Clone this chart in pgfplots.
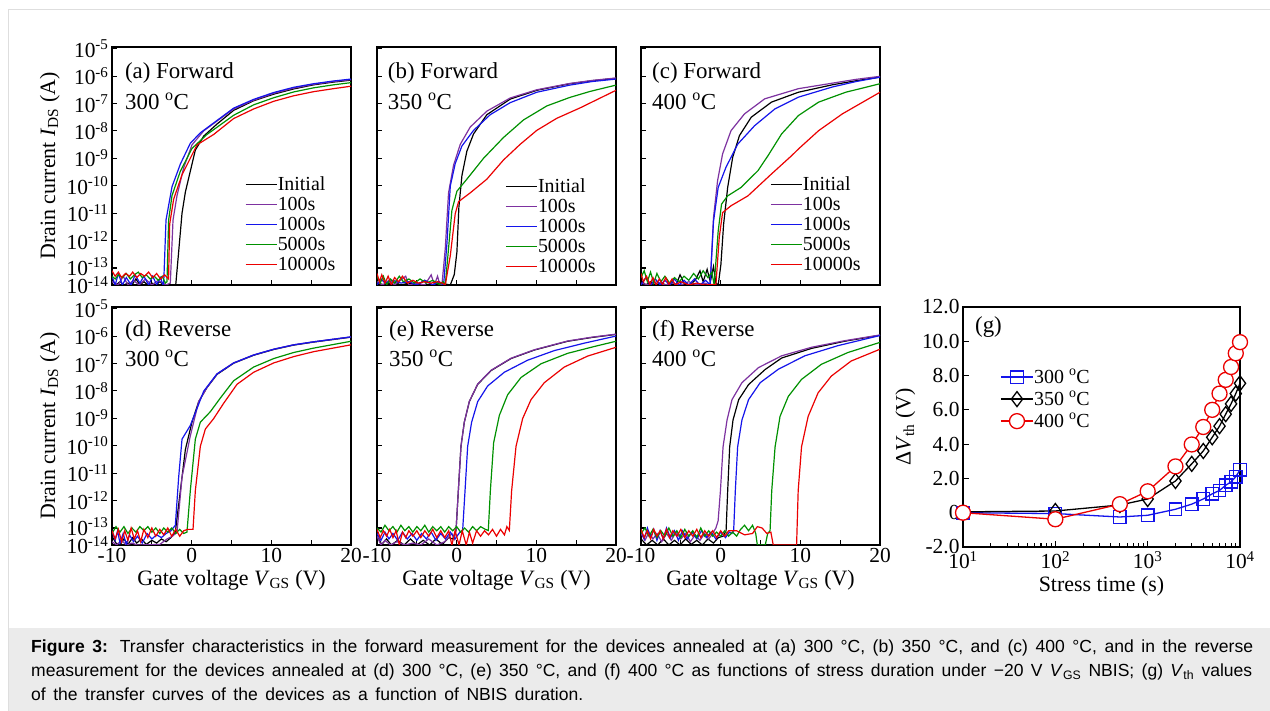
\documentclass[border=0pt]{standalone}
\usepackage{fontspec}
\setmainfont{Liberation Serif}
\newfontfamily\capfont{Liberation Sans}
\usepackage{pgfplots}
\pgfplotsset{compat=1.18}
\definecolor{cPur}{RGB}{125,50,160}
\definecolor{cBlu}{RGB}{20,20,235}
\definecolor{cGrn}{RGB}{0,145,0}
\definecolor{cRed}{RGB}{235,0,0}
\definecolor{capGray}{RGB}{235,235,235}
\definecolor{frameGray}{RGB}{222,222,222}
\newcommand\fs[1]{\fontsize{#1}{#1}\selectfont}
\newcommand\degC{\textsuperscript{o}C}

% y values are log10 of the drain current
\pgfplotsset{
  tc/.style={
    scale only axis, width=239bp, height=238bp, anchor=south west,
    xmin=-10, xmax=20, ymin=-13.62, ymax=-4.94,
    xtick={-10,0,10,20}, minor xtick={-5,5,15},
    ytick={-13.62,-13,-12,-11,-10,-9,-8,-7,-6,-5},
    xticklabels={}, yticklabels={},
    tick pos=left, tick align=inside,
    major tick length=5bp, minor tick length=5bp,
    axis line style={line width=1.5bp},
    every tick/.style={black, line width=1.1bp},
    tick label style={font=\fs{21.5}}, label style={font=\fs{22}},
    every axis plot/.append style={line width=1.2bp},
    legend style={draw=none, fill=none, anchor=north west, font=\fs{20},
      inner sep=0pt, row sep=3bp, legend cell align=left,
      nodes={inner sep=0.5bp, text height=14bp, text depth=2bp},
      /tikz/every even column/.append style={column sep=2bp}},
    legend image code/.code={\draw[##1] (0bp,0bp) -- (31bp,0bp);},
  },
  ylog/.style={
    yticklabels={\raisebox{-1bp}{10\textsuperscript{-14}},\raisebox{3bp}{10\textsuperscript{-13}},10\textsuperscript{-12},10\textsuperscript{-11},10\textsuperscript{-10},10\textsuperscript{-9},10\textsuperscript{-8},10\textsuperscript{-7},10\textsuperscript{-6},10\textsuperscript{-5}},
    ylabel={Drain current \textit{I}\textsubscript{DS} (A)}},
  xvg/.style={xticklabels={-10,0,10,20},
    xlabel={Gate voltage \textit{V}\textsubscript{GS} (V)}},
}

\begin{document}
\begin{tikzpicture}
\path[use as bounding box, fill=white] (0bp,0bp) rectangle (1270bp,711bp);
\fill[capGray] (9bp,0bp) rectangle (1270bp,83bp);
\draw[frameGray, line width=1bp] (8.5bp,0bp) -- (8.5bp,701.5bp) -- (1270bp,701.5bp);

% (a) forward 300
\begin{axis}[tc, ylog, at={(112bp,426bp)},
  legend style={at={(rel axis cs:0.556,0.46)}}]
\addplot[black] coordinates {(-10,-13.45) (-9.5,-13.62) (-9,-13.5) (-8.5,-13.62) (-8,-13.55) (-7.5,-13.62) (-7,-13.4) (-6.5,-13.62) (-6,-13.5) (-5.5,-13.62) (-5,-13.55) (-4.5,-13.62) (-4,-13.5) (-3.5,-13.62) (-2,-13.62) (-1.63,-12.4) (-1.21,-11.0) (-0.79,-10.23) (-0.17,-9.47) (0.46,-8.7) (1.51,-8.19) (3.18,-7.75) (5.27,-7.25) (7.78,-6.9) (10.3,-6.66) (12.8,-6.47) (15.3,-6.32) (17.8,-6.22) (20,-6.15)};
\addplot[cPur] coordinates {(-10,-13.5) (-9.2,-13.62) (-8.6,-13.3) (-8,-13.62) (-7.3,-13.45) (-6.6,-13.62) (-5.8,-13.4) (-5,-13.62) (-4.2,-13.45) (-3.2,-13.62) (-2.68,-13.55) (-2.34,-11.25) (-1.84,-10.36) (-1.0,-9.34) (0.04,-8.51) (1.51,-8.0) (3.18,-7.64) (5.27,-7.2) (7.78,-6.88) (10.3,-6.63) (12.8,-6.44) (15.3,-6.3) (17.8,-6.2) (20,-6.13)};
\addplot[cBlu] coordinates {(-10,-13.3) (-9.6,-13.62) (-9.2,-13.2) (-8.7,-13.62) (-8.2,-13.35) (-7.6,-13.62) (-7.1,-13.25) (-6.5,-13.55) (-6,-13.3) (-5.4,-13.62) (-4.9,-13.3) (-4.4,-13.6) (-3.9,-13.35) (-3.6,-13.62) (-3.51,-13.55) (-3.22,-11.25) (-2.47,-10.04) (-1.42,-9.21) (-0.17,-8.45) (1.09,-8.07) (3.18,-7.62) (5.27,-7.17) (7.78,-6.85) (10.3,-6.6) (12.8,-6.41) (15.3,-6.28) (17.8,-6.18) (20,-6.11)};
\addplot[cGrn] coordinates {(-10,-13.3) (-9.6,-13.4) (-9.2,-13.25) (-8.7,-13.35) (-8.2,-13.2) (-7.7,-13.4) (-7.2,-13.25) (-6.7,-13.15) (-6.2,-13.35) (-5.7,-13.25) (-5.2,-13.4) (-4.7,-13.3) (-4.2,-13.45) (-3.7,-13.3) (-3.3,-13.55) (-3.1,-13.5) (-2.89,-11.25) (-2.47,-10.36) (-1.42,-9.47) (0.04,-8.64) (1.92,-8.13) (3.5,-7.8) (5.27,-7.43) (7.78,-7.05) (10.3,-6.79) (12.8,-6.58) (15.3,-6.43) (17.8,-6.32) (20,-6.24)};
\addplot[cRed] coordinates {(-10,-13.1) (-9.6,-13.3) (-9.2,-13.15) (-8.8,-13.35) (-8.3,-13.2) (-7.8,-13.3) (-7.4,-13.15) (-6.9,-13.35) (-6.4,-13.2) (-5.9,-13.3) (-5.4,-13.15) (-4.9,-13.35) (-4.4,-13.2) (-3.9,-13.4) (-3.4,-13.25) (-2.9,-13.4) (-2.76,-11.4) (-2.26,-10.49) (-1.21,-9.6) (0.67,-8.51) (2.76,-8.13) (5.27,-7.55) (7.78,-7.2) (10.3,-6.92) (12.8,-6.72) (15.3,-6.57) (17.8,-6.46) (20,-6.37)};
\legend{Initial,100s,1000s,5000s,10000s}
\node[anchor=west, font=\fs{23}, inner sep=0pt] at (rel axis cs:0.054,0.89) {(a) Forward};
\node[anchor=west, font=\fs{23}, inner sep=0pt] at (rel axis cs:0.054,0.773) {300 \degC};
\end{axis}

% (b) forward 350
\begin{axis}[tc, at={(377bp,426bp)},
  legend style={at={(rel axis cs:0.536,0.452)}}]
\addplot[black] coordinates {(-10,-13.55) (-9,-13.62) (-8,-13.5) (-7,-13.62) (-6,-13.55) (-5,-13.62) (-4,-13.45) (-3,-13.62) (-2,-13.55) (-0.8,-13.62) (-0.3,-13.24) (0.03,-12.42) (0.28,-10.77) (0.66,-9.63) (1.28,-8.74) (2.12,-8.11) (3.79,-7.41) (6.72,-6.84) (10.06,-6.52) (14.2,-6.28) (17,-6.17) (20,-6.08)};
\addplot[cPur] coordinates {(-10,-13.5) (-9.3,-13.62) (-8.5,-13.45) (-7.8,-13.62) (-6.4,-13.3) (-6,-13.62) (-5,-13.55) (-4,-13.62) (-3.2,-13.25) (-2.8,-13.62) (-2.4,-13.3) (-2.1,-13.62) (-1.85,-13.62) (-1.43,-12.29) (-1.02,-10.26) (-0.39,-9.25) (0.45,-8.49) (1.7,-7.86) (3.79,-7.28) (6.72,-6.8) (10.06,-6.5) (14.2,-6.27) (17,-6.16) (20,-6.07)};
\addplot[cBlu] coordinates {(-10,-13.62) (-9.5,-13.4) (-9,-13.55) (-8,-13.45) (-7,-13.55) (-6,-13.5) (-5,-13.62) (-4,-13.45) (-3,-13.62) (-2.2,-13.5) (-1.64,-13.62) (-1.22,-12.1) (-0.8,-10.01) (-0.18,-9.19) (0.66,-8.55) (2.12,-7.98) (4.21,-7.41) (6.72,-6.97) (10.06,-6.59) (14.2,-6.33) (17,-6.2) (20,-6.11)};
\addplot[cGrn] coordinates {(-10,-13.3) (-9.6,-13.55) (-9.2,-13.3) (-8.8,-13.62) (-8.3,-13.4) (-7.8,-13.55) (-7.2,-13.3) (-6.7,-13.5) (-6,-13.4) (-5.3,-13.55) (-4.6,-13.4) (-3.8,-13.55) (-3,-13.45) (-2.2,-13.6) (-1.7,-13.5) (-1.43,-13.62) (-1.02,-12.29) (-0.6,-10.9) (0.03,-10.2) (1.28,-9.76) (3.37,-9.0) (5.88,-8.24) (8.39,-7.6) (11.31,-7.09) (14.2,-6.78) (16.75,-6.56) (20,-6.33)};
\addplot[cRed] coordinates {(-10,-13.2) (-9.7,-13.5) (-9.4,-13.25) (-9,-13.55) (-8.6,-13.3) (-8.2,-13.62) (-7.8,-13.35) (-7.3,-13.5) (-6.8,-13.3) (-6.2,-13.55) (-5.5,-13.45) (-4.8,-13.55) (-4,-13.5) (-3.2,-13.55) (-2.4,-13.5) (-1.8,-13.55) (-1.43,-13.62) (-0.8,-12.55) (-0.18,-11.02) (0.24,-10.58) (1.7,-10.26) (3.79,-9.76) (5.88,-9.06) (7.97,-8.49) (10.06,-7.98) (12.57,-7.54) (15.5,-7.16) (20,-6.52)};
\legend{Initial,100s,1000s,5000s,10000s}
\node[anchor=west, font=\fs{23}, inner sep=0pt] at (rel axis cs:0.045,0.89) {(b) Forward};
\node[anchor=west, font=\fs{23}, inner sep=0pt] at (rel axis cs:0.045,0.773) {350 \degC};
\end{axis}

% (c) forward 400
\begin{axis}[tc, at={(641bp,426bp)},
  legend style={at={(rel axis cs:0.54,0.46)}}]
\addplot[black] coordinates {(-10,-13.45) (-9.4,-13.62) (-8.8,-13.5) (-8.2,-13.62) (-7.5,-13.55) (-6.8,-13.62) (-6.2,-13.5) (-5.6,-13.62) (-5.1,-13.25) (-4.6,-13.55) (-3.9,-13.62) (-3.2,-13.45) (-2.6,-13.1) (-2.2,-13.5) (-1.7,-13.05) (-1.3,-13.5) (-0.9,-12.95) (-0.6,-13.55) (-0.31,-13.62) (0.03,-12.87) (0.37,-11.4) (0.88,-10.06) (1.51,-8.96) (2.36,-8.17) (3.84,-7.5) (6.38,-6.95) (9.76,-6.59) (14.0,-6.32) (17,-6.17) (20,-6.04)};
\addplot[cPur] coordinates {(-10,-13.55) (-9,-13.62) (-8,-13.5) (-7,-13.62) (-6,-13.55) (-5,-13.62) (-4,-13.5) (-3,-13.62) (-2,-13.55) (-1.32,-13.62) (-0.9,-11.16) (-0.39,-9.82) (0.24,-8.84) (1.3,-7.99) (2.99,-7.38) (5.53,-6.83) (9.76,-6.46) (14.0,-6.26) (17,-6.12) (20,-6.01)};
\addplot[cBlu] coordinates {(-10,-13.62) (-9.4,-13.35) (-8.8,-13.62) (-8.2,-13.4) (-7.6,-13.62) (-7,-13.45) (-6.4,-13.62) (-5.8,-13.4) (-5.2,-13.62) (-4.6,-13.45) (-4,-13.62) (-3.3,-13.4) (-2.6,-13.62) (-1.9,-13.45) (-1.32,-13.62) (-0.9,-11.3) (-0.31,-10.06) (0.66,-9.33) (2.15,-8.48) (4.26,-7.81) (6.8,-7.2) (9.76,-6.77) (14.0,-6.4) (17,-6.2) (20,-6.04)};
\addplot[cGrn] coordinates {(-10,-13.35) (-9.6,-13.1) (-9.2,-13.5) (-8.8,-13.15) (-8.4,-13.55) (-8,-13.2) (-7.5,-13.5) (-7,-13.3) (-6.4,-13.55) (-5.8,-13.35) (-5.2,-13.5) (-4.6,-13.3) (-4,-13.45) (-3.4,-13.2) (-2.8,-13.4) (-2.2,-13.1) (-1.6,-13.35) (-1.1,-13.15) (-0.82,-13.62) (-0.31,-11.65) (0.11,-10.67) (0.88,-10.37) (2.57,-10.06) (4.68,-9.45) (5.95,-8.9) (7.65,-8.11) (9.76,-7.44) (12.3,-6.95) (15.7,-6.59) (20,-6.28)};
\addplot[cRed] coordinates {(-10,-13.2) (-9.7,-13.5) (-9.3,-13.3) (-8.9,-13.6) (-8.5,-13.35) (-8.1,-13.62) (-7.7,-13.4) (-7.3,-13.6) (-6.9,-13.35) (-6.5,-13.6) (-6.1,-13.4) (-5.7,-13.62) (-5,-13.5) (-4,-13.62) (-3,-13.55) (-2,-13.62) (-1,-13.6) (-0.6,-13.62) (-0.18,-11.89) (0.24,-10.98) (1.3,-10.73) (3.42,-10.37) (6.38,-9.57) (8.92,-8.9) (9.76,-8.66) (12.3,-7.99) (15.27,-7.38) (20,-6.59)};
\legend{Initial,100s,1000s,5000s,10000s}
\node[anchor=west, font=\fs{23}, inner sep=0pt] at (rel axis cs:0.046,0.89) {(c) Forward};
\node[anchor=west, font=\fs{23}, inner sep=0pt] at (rel axis cs:0.046,0.773) {400 \degC};
\end{axis}

% (d) reverse 300
\begin{axis}[tc, ylog, xvg, at={(112bp,166bp)}]
\addplot[black] coordinates {(-10,-13.3) (-9.5,-13.55) (-9,-13.62) (-8.5,-13.4) (-8,-13.6) (-7.4,-13.35) (-6.9,-13.55) (-6.3,-13.4) (-5.7,-13.6) (-5,-13.45) (-4.4,-13.55) (-3.8,-13.4) (-3.2,-13.5) (-2.6,-13.35) (-2.05,-13.15) (-1.63,-12.15) (-0.79,-10.14) (0.04,-9.14) (0.88,-8.39) (1.92,-7.88) (3.18,-7.4) (5.27,-6.99) (7.78,-6.7) (10.3,-6.49) (12.8,-6.33) (15.3,-6.22) (20,-6.04)};
\addplot[cPur] coordinates {(-10,-13.5) (-9.4,-13.62) (-8.8,-13.45) (-8.2,-13.62) (-7.5,-13.55) (-6.8,-13.62) (-4,-13.6) (-3.1,-13.4) (-2.4,-13.3) (-1.84,-13.15) (-1.21,-11.14) (-0.17,-9.64) (0.88,-8.39) (1.92,-7.88) (3.18,-7.38) (5.27,-6.98) (7.78,-6.69) (10.3,-6.48) (12.8,-6.32) (15.3,-6.21) (20,-6.03)};
\addplot[cBlu] coordinates {(-10,-13.1) (-9.6,-13.45) (-9.3,-13.1) (-9,-13.55) (-8.6,-13.2) (-8.2,-13.6) (-7.8,-13.25) (-7.3,-13.5) (-6.8,-13.3) (-6.2,-13.55) (-5.6,-13.2) (-5,-13.4) (-4.4,-13.25) (-3.8,-13.35) (-3.2,-13.2) (-2.6,-13.1) (-2.05,-12.9) (-1.63,-11.14) (-1.21,-9.76) (-0.17,-9.26) (0.67,-8.64) (1.51,-8.01) (3.18,-7.38) (5.27,-6.98) (7.78,-6.69) (10.3,-6.48) (12.8,-6.32) (15.3,-6.21) (20,-6.03)};
\addplot[cGrn] coordinates {(-10,-13.2) (-9.5,-12.95) (-9,-13.15) (-8.5,-12.95) (-8,-13.2) (-7.5,-13.0) (-7,-13.15) (-6.5,-12.95) (-6,-13.1) (-5.5,-12.95) (-5,-13.15) (-4.5,-13.0) (-4,-13.2) (-3.5,-13.0) (-3,-13.15) (-2.5,-13.0) (-2,-13.2) (-1.5,-13.05) (-1,-13.2) (-0.59,-13.15) (-0.17,-11.64) (0.46,-9.76) (1.09,-9.14) (2.34,-8.76) (3.6,-8.26) (5.27,-7.63) (7.78,-7.13) (10.3,-6.82) (12.8,-6.6) (15.3,-6.44) (20,-6.19)};
\addplot[cRed] coordinates {(-10,-13.1) (-9.6,-13.4) (-9.2,-13.05) (-8.8,-13.5) (-8.4,-13.1) (-8,-13.45) (-7.6,-13.0) (-7.2,-13.4) (-6.8,-13.1) (-6.4,-13.5) (-6,-13.05) (-5.5,-13.35) (-5,-13.0) (-4.5,-13.3) (-4,-13.05) (-3.5,-13.25) (-3,-13.0) (-2.5,-13.3) (-2,-13.05) (-1.5,-13.3) (-1,-13.1) (-0.5,-13.05) (0.17,-13.05) (0.46,-11.64) (1.09,-10.02) (1.72,-9.39) (2.76,-9.01) (4.02,-8.45) (5.69,-7.76) (7.78,-7.32) (10.3,-6.98) (12.8,-6.75) (15.3,-6.57) (20,-6.32)};
\node[anchor=west, font=\fs{23}, inner sep=0pt] at (rel axis cs:0.054,0.9) {(d) Reverse};
\node[anchor=west, font=\fs{23}, inner sep=0pt] at (rel axis cs:0.054,0.786) {300 \degC};
\end{axis}

% (e) reverse 350
\begin{axis}[tc, xvg, at={(377bp,166bp)}]
\addplot[black] coordinates {(-10,-13.3) (-9.4,-13.6) (-8.8,-13.4) (-8.2,-13.62) (-7.4,-13.45) (-6.6,-13.62) (-5.8,-13.4) (-5,-13.62) (-4.2,-13.45) (-3.4,-13.62) (-2.6,-13.4) (-1.8,-13.6) (-1,-13.35) (-0.5,-13.4) (-0.08,-13.09) (0.21,-11.64) (0.54,-10.02) (0.96,-9.14) (1.59,-8.39) (2.64,-7.76) (4.31,-7.26) (6.82,-6.82) (9.75,-6.51) (13.93,-6.19) (17,-6.05) (20,-5.94)};
\addplot[cPur] coordinates {(-10,-13.3) (-9.5,-13.62) (-9,-13.45) (-8.3,-13.62) (-7.5,-13.5) (-6.5,-13.62) (-5.5,-13.55) (-4.5,-13.62) (-3.5,-13.4) (-2.5,-13.62) (-1.5,-13.5) (-0.6,-13.2) (-0.3,-13.4) (-0.08,-13.09) (0.21,-11.64) (0.54,-10.02) (0.96,-9.14) (1.59,-8.38) (2.64,-7.75) (4.31,-7.25) (6.82,-6.81) (9.75,-6.5) (13.93,-6.18) (17,-6.04) (20,-5.93)};
\addplot[cBlu] coordinates {(-10,-13.2) (-9.5,-13.45) (-9,-13.15) (-8.5,-13.4) (-8,-13.2) (-7.4,-13.45) (-6.8,-13.15) (-6.2,-13.4) (-5.6,-13.2) (-5,-13.45) (-4.4,-13.2) (-3.8,-13.4) (-3.2,-13.15) (-2.6,-13.45) (-2,-13.2) (-1.4,-13.4) (-0.8,-13.15) (-0.2,-13.4) (0.4,-13.15) (0.75,-13.09) (1.05,-11.64) (1.38,-10.02) (1.88,-9.14) (2.64,-8.39) (3.89,-7.82) (5.98,-7.32) (8.91,-6.88) (12.26,-6.53) (16.0,-6.26) (20,-6.0)};
\addplot[cGrn] coordinates {(-10,-13.0) (-9.5,-13.15) (-9,-12.9) (-8.5,-13.1) (-8,-12.95) (-7.5,-13.15) (-7,-12.9) (-6.5,-13.1) (-6,-12.95) (-5.5,-13.15) (-5,-12.95) (-4.5,-13.1) (-4,-12.9) (-3.5,-13.15) (-3,-12.95) (-2.5,-13.1) (-2,-12.95) (-1.5,-13.15) (-1,-12.95) (-0.5,-13.1) (0,-12.95) (0.5,-13.15) (1,-13.0) (1.5,-13.15) (2,-12.95) (2.5,-13.1) (3,-12.95) (3.6,-13.05) (3.97,-13.09) (4.23,-11.64) (4.64,-9.89) (5.36,-8.89) (6.4,-8.14) (8.08,-7.51) (10.59,-7.01) (13.93,-6.63) (17.28,-6.38) (20,-6.19)};
\addplot[cRed] coordinates {(-10,-13.05) (-9.6,-13.35) (-9.2,-13.1) (-8.8,-13.3) (-8.4,-13.05) (-8,-13.35) (-7.6,-13.1) (-7.2,-13.62) (-6.8,-13.15) (-6.4,-13.35) (-6,-13.1) (-5.5,-13.3) (-5,-13.1) (-4.5,-13.35) (-4,-13.1) (-3.5,-13.3) (-3,-13.05) (-2.5,-13.35) (-2,-13.1) (-1.5,-13.35) (-1,-13.1) (-0.6,-13.62) (-0.2,-13.1) (0.3,-13.62) (0.7,-13.1) (1.2,-13.62) (1.6,-13.15) (2,-13.55) (2.5,-13.1) (3,-13.3) (3.5,-13.1) (4,-13.25) (4.5,-13.05) (5,-13.3) (5.5,-13.05) (6,-13.25) (6.3,-12.95) (6.61,-13.09) (6.9,-11.64) (7.45,-10.02) (8.28,-9.01) (9.33,-8.32) (11.0,-7.7) (13.51,-7.13) (16.44,-6.73) (20,-6.41)};
\node[anchor=west, font=\fs{23}, inner sep=0pt] at (rel axis cs:0.05,0.9) {(e) Reverse};
\node[anchor=west, font=\fs{23}, inner sep=0pt] at (rel axis cs:0.05,0.786) {350 \degC};
\end{axis}

% (f) reverse 400
\begin{axis}[tc, xvg, at={(641bp,166bp)}]
\addplot[black] coordinates {(-10,-13.4) (-9.3,-13.62) (-8.6,-13.45) (-7.9,-13.62) (-7.2,-13.4) (-6.5,-13.62) (-5.8,-13.45) (-5.1,-13.62) (-4.4,-13.4) (-3.7,-13.6) (-3,-13.45) (-2.3,-13.62) (-1.6,-13.4) (-0.9,-13.55) (-0.3,-13.35) (0.3,-13.3) (0.68,-13.1) (0.88,-11.64) (1.13,-10.04) (1.55,-9.06) (2.26,-8.32) (3.5,-7.77) (5.58,-7.22) (7.66,-6.8) (11.4,-6.45) (15.55,-6.19) (20,-5.97)};
\addplot[cPur] coordinates {(-10,-13.2) (-9.5,-13.45) (-9,-13.15) (-8.5,-13.4) (-8,-13.2) (-7.4,-13.5) (-6.8,-13.2) (-6.2,-13.45) (-5.6,-13.15) (-5,-13.4) (-4.4,-13.2) (-3.8,-13.5) (-3.2,-13.25) (-2.6,-13.45) (-2,-13.2) (-1.5,-13.4) (-1,-13.2) (-0.6,-13.0) (-0.32,-12.74) (-0.03,-11.64) (0.3,-10.04) (0.8,-9.06) (1.42,-8.32) (2.67,-7.7) (4.75,-7.15) (7.66,-6.72) (11.4,-6.41) (15.55,-6.17) (20,-5.96)};
\addplot[cBlu] coordinates {(-10,-13.1) (-9.6,-13.4) (-9.2,-13.0) (-8.8,-13.35) (-8.4,-13.05) (-8,-13.45) (-7.6,-13.1) (-7.2,-13.4) (-6.8,-13.0) (-6.3,-13.35) (-5.8,-13.1) (-5.3,-13.45) (-4.8,-13.1) (-4.2,-13.4) (-3.6,-13.15) (-3,-13.4) (-2.4,-13.1) (-1.8,-13.35) (-1.2,-13.15) (-0.6,-13.4) (0,-13.15) (0.6,-13.35) (1.1,-13.15) (1.4,-13.2) (1.63,-13.1) (1.84,-11.64) (2.13,-10.04) (2.67,-9.06) (3.5,-8.32) (4.96,-7.7) (7.24,-7.21) (10.56,-6.72) (14.72,-6.35) (20,-5.98)};
\addplot[cGrn] coordinates {(-10,-13.2) (-9.5,-13.0) (-9,-13.3) (-8.5,-13.05) (-8,-13.35) (-7.5,-13.1) (-7,-13.3) (-6.5,-13.0) (-6,-13.3) (-5.5,-13.1) (-5,-13.35) (-4.5,-13.05) (-4,-13.3) (-3.5,-13.1) (-3,-13.35) (-2.5,-13.0) (-2,-13.3) (-1.5,-13.1) (-1,-13.3) (-0.5,-13.15) (0,-13.3) (0.5,-13.1) (1,-13.3) (1.5,-13.15) (2,-13.3) (2.5,-13.05) (3,-12.9) (3.5,-13.1) (4,-12.9) (4.4,-13.2) (4.6,-13.62) (5.6,-13.62) (5.9,-13.2) (6.2,-13.1) (6.41,-11.64) (6.83,-10.04) (7.45,-8.93) (8.49,-8.2) (10.15,-7.58) (12.64,-7.03) (15.97,-6.6) (20,-6.23)};
\addplot[cRed] coordinates {(-10,-13.05) (-9.6,-13.35) (-9.2,-13.1) (-8.8,-13.4) (-8.4,-13.05) (-8,-13.3) (-7.6,-13.1) (-7.2,-13.4) (-6.8,-13.05) (-6.4,-13.35) (-6,-13.1) (-5.5,-13.3) (-5,-13.05) (-4.5,-13.35) (-4,-13.1) (-3.5,-13.3) (-3,-13.05) (-2.5,-13.35) (-2,-13.1) (-1.5,-13.3) (-1,-13.1) (-0.5,-13.35) (0,-13.1) (0.5,-13.3) (1,-13.1) (2,-13.1) (3,-13.25) (4,-13.2) (4.6,-12.95) (5.2,-13.0) (5.8,-13.2) (6.3,-13.15) (6.6,-13.62) (9.53,-13.62) (9.73,-11.64) (10.15,-10.04) (10.98,-8.93) (12.23,-8.07) (13.89,-7.46) (16.38,-6.91) (20,-6.48)};
\node[anchor=west, font=\fs{23}, inner sep=0pt] at (rel axis cs:0.046,0.9) {(f) Reverse};
\node[anchor=west, font=\fs{23}, inner sep=0pt] at (rel axis cs:0.046,0.786) {400 \degC};
\end{axis}

% (g) threshold voltage shift
\begin{axis}[at={(963bp,164bp)}, anchor=south west, scale only axis,
  width=277bp, height=240bp,
  xmode=log, xmin=10, xmax=10000, ymin=-2, ymax=12,
  xtick={10,100,1000,10000},
  xticklabels={10\textsuperscript{1},10\textsuperscript{2},10\textsuperscript{3},10\textsuperscript{4}},
  ytick={-2,0,2,4,6,8,10,12},
  yticklabels={-2.0,0,2.0,4.0,6.0,8.0,10.0,12.0},
  tick pos=left, tick align=inside,
  major tick length=6bp, minor tick length=4bp,
  axis line style={line width=1.5bp},
  every tick/.style={black, line width=1.1bp},
  tick label style={font=\fs{21.5}}, label style={font=\fs{22}},
  xticklabel style={yshift=-1bp},
  xlabel={Stress time (s)},
  ylabel={Δ\textit{V}\textsubscript{th} (V)},
  clip=false,
  legend style={draw=none, fill=none, anchor=north west, font=\fs{20},
    at={(rel axis cs:0.134,0.744)},
    inner sep=0pt, row sep=5bp, legend cell align=left,
    nodes={inner sep=0.5bp, text height=14bp, text depth=2bp},
    /tikz/every even column/.append style={column sep=3bp}},
  legend image code/.code={\draw[#1] (0bp,0bp) -- (32bp,0bp); \draw[#1] plot coordinates {(16bp,0bp)};},
]
\addplot[cBlu, line width=1.3bp, mark=square, mark size=6.2bp, mark options={fill=white, solid}] coordinates {
  (10,0) (100,-0.05) (500,-0.25) (1000,-0.15) (2000,0.2) (3000,0.5) (4000,0.8) (5000,1.1) (6000,1.3) (7000,1.6) (8000,1.8) (9000,2.1) (10000,2.5)};
\addplot[black, line width=1.3bp, mark=diamond, mark size=7.5bp, mark options={fill=white, solid}] coordinates {
  (10,0.05) (100,0.1) (500,0.45) (1000,0.8) (2000,1.85) (3000,2.85) (4000,3.6) (5000,4.4) (6000,5.05) (7000,5.75) (8000,6.35) (9000,6.95) (10000,7.55)};
\addplot[cRed, line width=1.3bp, mark=*, mark size=7.5bp, mark options={fill=white, solid}] coordinates {
  (10,0) (100,-0.38) (500,0.5) (1000,1.25) (2000,2.7) (3000,3.98) (4000,5.0) (5000,6.0) (6000,6.95) (7000,7.75) (8000,8.5) (9000,9.3) (10000,9.95)};
\legend{300 \degC,350 \degC,400 \degC}
\node[anchor=west, font=\fs{23}, inner sep=0pt] at (rel axis cs:0.043,0.917) {(g)};
\end{axis}

% caption
\begin{scope}[font=\capfont\fs{17.6}]
\node[anchor=base west, inner sep=0pt] at (31bp,58.5bp) {\makebox[1222bp][s]{\textbf{Figure 3:} Transfer characteristics in the forward measurement for the devices annealed at (a) 300 °C, (b) 350 °C, and (c) 400 °C, and in the reverse}};
\node[anchor=base west, inner sep=0pt] at (31bp,34.5bp) {\makebox[1221bp][s]{measurement for the devices annealed at (d) 300 °C, (e) 350 °C, and (f) 400 °C as functions of stress duration under −20 V \textit{V}\textsubscript{GS} NBIS; (g) \textit{V}\textsubscript{th} values}};
\node[anchor=base west, inner sep=0pt] at (31bp,11bp) {\makebox[552bp][s]{of the transfer curves of the devices as a function of NBIS duration.}};
\end{scope}
\end{tikzpicture}
\end{document}
